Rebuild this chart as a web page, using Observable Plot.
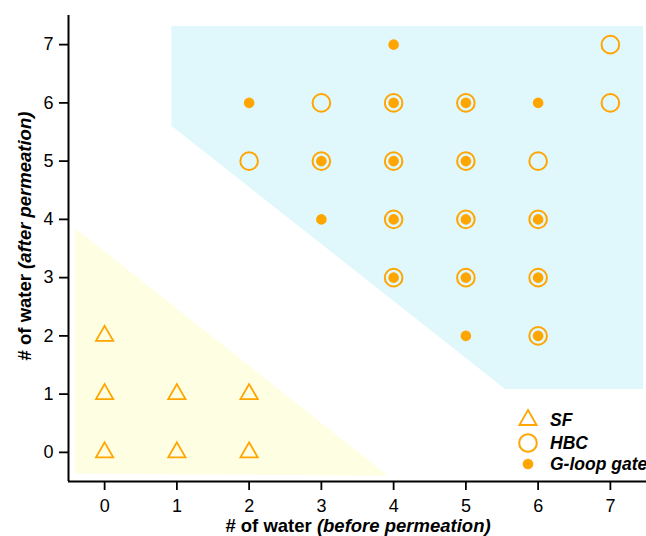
<!DOCTYPE html>
<html>
<head>
<meta charset="utf-8">
<script src="https://cdn.jsdelivr.net/npm/d3@7"></script>
<script src="https://cdn.jsdelivr.net/npm/@observablehq/plot@0.6"></script>
<style>
  html, body { margin: 0; padding: 0; background: #fff; }
  #chart { position: relative; width: 646px; height: 536px; }
</style>
</head>
<body>
<div id="chart"></div>
<script>
// ---- data ----
const axisDomain = [-0.5, 7.5];
const tickValues = [0, 1, 2, 3, 4, 5, 6, 7];
const xLabelMain = "# of water ";
const xLabelSub = "(before permeation)";
const yLabelMain = "# of water ";
const yLabelSub = "(after permeation)";

// SF (triangles) [before, after]
const sfX = [0, 1, 2, 0, 1, 2, 0];
const sfY = [0, 0, 0, 1, 1, 1, 2];
// HBC (open circles)
const hbcX = [7, 3, 4, 5, 7, 2, 3, 4, 5, 6, 4, 5, 6, 4, 5, 6, 6];
const hbcY = [7, 6, 6, 6, 6, 5, 5, 5, 5, 5, 4, 4, 4, 3, 3, 3, 2];
// G-loop gate (filled dots)
const gX = [4, 2, 4, 5, 6, 3, 4, 5, 3, 4, 5, 6, 4, 5, 6, 5, 6];
const gY = [7, 6, 6, 6, 6, 5, 5, 5, 4, 4, 4, 4, 3, 3, 3, 2, 2];

// shaded regions (data coordinates)
const blueRegionX = [0.93, 5.55, 7.46];
const blueRegionLow = [5.6, 1.08, 1.08];
const blueRegionHigh = [7.31, 7.31, 7.31];
const yellowRegionX = [-0.4, 3.93];
const yellowRegionLow = [-0.37, -0.41];
const yellowRegionHigh = [3.84, -0.41];

const legendNames = ["SF", "HBC", "G-loop gate"];

// ---- build ----
const orange = "#ffa500";
const font = "'Liberation Sans', Arial, Helvetica, sans-serif";
const zip = (xs, ys) => xs.map((x, i) => ({x, y: ys[i]}));
const region = (xs, lo, hi) => xs.map((x, i) => ({x, y1: lo[i], y2: hi[i]}));

const plot = Plot.plot({
  width: 646,
  height: 536,
  marginLeft: 68,
  marginRight: 0,
  marginTop: 15,
  marginBottom: 55,
  style: {fontFamily: font, background: "#fff", color: "#000"},
  x: {domain: axisDomain},
  y: {domain: axisDomain},
  marks: [
    Plot.areaY(region(blueRegionX, blueRegionLow, blueRegionHigh), {x: "x", y1: "y1", y2: "y2", fill: "#e0f8fc", curve: "linear"}),
    Plot.areaY(region(yellowRegionX, yellowRegionLow, yellowRegionHigh), {x: "x", y1: "y1", y2: "y2", fill: "#fefee2", curve: "linear"}),
    Plot.axisX({ticks: tickValues, tickSize: 9, tickPadding: 9, fontSize: 18, strokeWidth: 1.8, label: null}),
    Plot.axisY({ticks: tickValues, tickSize: 9, tickPadding: 6, fontSize: 18, strokeWidth: 1.8, label: null}),
    Plot.ruleY([axisDomain[0]], {stroke: "#000", strokeWidth: 2}),
    Plot.ruleX([axisDomain[0]], {stroke: "#000", strokeWidth: 2}),
    Plot.dot(zip(sfX, sfY), {x: "x", y: "y", symbol: "triangle", r: 6.4, stroke: orange, strokeWidth: 1.8, fill: "none"}),
    Plot.dot(zip(hbcX, hbcY), {x: "x", y: "y", r: 8.8, stroke: orange, strokeWidth: 2, fill: "none"}),
    Plot.dot(zip(gX, gY), {x: "x", y: "y", r: 5.3, fill: orange, stroke: "none"})
  ]
});

document.getElementById("chart").appendChild(plot);

const svg = d3.select(plot);

// axis titles
const xt = svg.append("text")
  .attr("x", 358).attr("y", 532)
  .attr("text-anchor", "middle")
  .attr("font-family", font).attr("font-size", 18.5).attr("font-weight", "bold").attr("fill", "#000");
xt.append("tspan").text(xLabelMain);
xt.append("tspan").attr("font-style", "italic").text(xLabelSub);

const yt = svg.append("text")
  .attr("transform", "translate(31,236) rotate(-90)")
  .attr("text-anchor", "middle")
  .attr("font-family", font).attr("font-size", 18.5).attr("font-weight", "bold").attr("fill", "#000");
yt.append("tspan").text(yLabelMain);
yt.append("tspan").attr("font-style", "italic").text(yLabelSub);

// legend
const lg = svg.append("g").attr("font-family", font).attr("font-size", 17.5)
  .attr("font-weight", "bold").attr("font-style", "italic").attr("text-anchor", "start");
const rows = [
  {name: legendNames[0], y: 420},
  {name: legendNames[1], y: 443},
  {name: legendNames[2], y: 464}
];
lg.append("path").attr("transform", `translate(528,${rows[0].y})`)
  .attr("d", d3.symbol(d3.symbolTriangle, Math.PI * 6.4 * 6.4)())
  .attr("fill", "none").attr("stroke", orange).attr("stroke-width", 1.8);
lg.append("circle").attr("cx", 528).attr("cy", rows[1].y).attr("r", 8.8)
  .attr("fill", "none").attr("stroke", orange).attr("stroke-width", 2);
lg.append("circle").attr("cx", 528).attr("cy", rows[2].y).attr("r", 5.3).attr("fill", orange);
rows.forEach(r => {
  lg.append("text").attr("x", 550).attr("y", r.y).attr("dy", "0.36em")
    .attr("text-anchor", "start").attr("fill", "#000").text(r.name);
});
</script>
</body>
</html>
